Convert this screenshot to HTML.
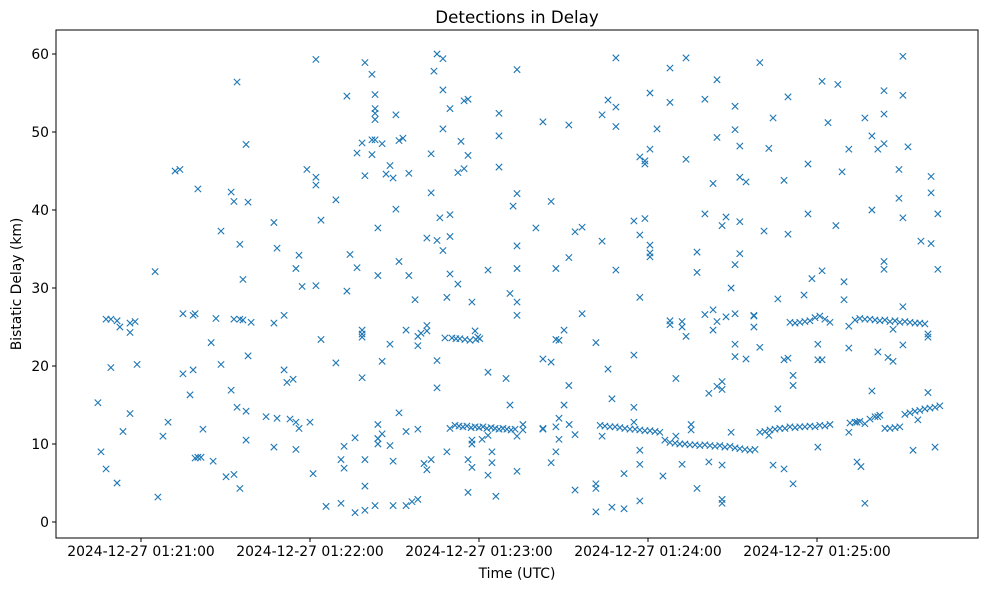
<!DOCTYPE html>
<html><head><meta charset="utf-8"><style>
body{margin:0;background:#fff;}
svg{display:block;font-family:"DejaVu Sans","Liberation Sans",sans-serif;}
</style></head><body>
<svg id="chart" width="989" height="590" viewBox="0 0 989 590" xmlns="http://www.w3.org/2000/svg"></svg>
<script>
// time in seconds after 01:20:00 UTC, delay in km
const xTickSeconds=[60,120,180,240,300];
const xTickLabels=["2024-12-27 01:21:00","2024-12-27 01:22:00","2024-12-27 01:23:00","2024-12-27 01:24:00","2024-12-27 01:25:00"];
const yTicks=[0,10,20,30,40,50,60];
const detections=[
[44.7,15.3],[45.8,9],[47.6,26],[47.6,6.8],[49.3,19.8],[49.3,26],[51.5,25.8],[51.5,5],[52.5,25],[53.6,11.6],
[56.1,25.5],[56.1,24.3],[56.1,13.9],[57.9,25.7],[58.6,20.2],[65.0,32.1],[66.0,3.2],[67.8,11],[69.6,12.8],[72.1,45],
[73.8,45.2],[74.9,26.7],[74.9,19],[77.4,16.3],[78.5,26.5],[78.5,19.5],[79.2,26.7],[79.2,8.2],[80.2,42.7],[80.2,8.3],
[81.3,8.3],[82.0,11.9],[84.9,23],[85.6,7.8],[86.6,26.1],[88.4,20.2],[88.4,37.3],[90.2,5.8],[92.0,16.9],[92.0,42.3],
[93.0,41.1],[93.0,26],[93.0,6.1],[94.1,56.4],[94.1,14.7],[95.1,35.6],[95.1,26],[95.1,4.3],[96.2,31.1],[96.2,25.9],
[97.3,48.4],[97.3,10.5],[97.3,14.2],[98.0,41],[98.0,21.3],[99.1,25.6],[104.4,13.5],[107.2,25.5],[107.2,38.4],[107.2,9.6],
[108.3,13.3],[108.3,35.1],[110.8,26.5],[110.8,19.5],[111.8,17.9],[112.9,13.2],[114.0,18.3],[115.0,12.8],[115.0,32.5],[115.0,9.3],
[116.1,34.2],[116.1,12],[117.2,30.2],[118.9,45.2],[120.0,12.8],[121.1,6.2],[122.1,59.3],[122.1,44.2],[122.1,30.3],[122.1,43.2],
[123.9,38.7],[123.9,23.4],[125.7,2],[129.2,41.3],[129.2,20.4],[131.0,8],[131.0,2.4],[132.1,9.7],[132.1,6.9],[133.1,54.6],
[133.1,29.6],[134.2,34.3],[136.0,10.8],[136.0,1.2],[136.7,32.6],[136.7,47.3],[138.5,48.6],[138.5,24.6],[138.5,23.7],[138.5,24.1],
[138.5,18.5],[139.5,58.9],[139.5,44.4],[139.5,4.6],[139.5,1.5],[139.5,8],[142.0,49],[142.0,47.1],[142.0,57.4],[143.1,2.1],
[143.1,54.8],[143.1,53],[143.1,49],[143.1,52.4],[143.1,51.6],[144.1,37.7],[144.1,31.6],[144.1,10.7],[144.1,12.5],[144.1,10],
[144.1,10.7],[145.6,20.6],[145.6,11.3],[145.6,48.5],[147.0,44.6],[148.4,45.7],[148.4,22.8],[148.4,9.8],[149.5,44.1],[149.5,7.8],
[149.5,2.1],[150.5,40.1],[150.5,52.2],[151.6,48.9],[151.6,33.4],[151.6,14],[153.0,49.2],[154.1,11.6],[154.1,2.1],[154.1,24.6],
[155.1,44.7],[155.1,31.6],[156.2,2.6],[157.3,28.5],[158.3,23.8],[158.3,11.9],[158.3,22.6],[158.3,2.9],[159.4,24.2],[160.5,7.5],
[161.5,25.2],[161.5,36.4],[161.5,6.7],[161.5,24.5],[163.0,42.2],[163.0,47.2],[163.0,8],[164.0,57.8],[165.1,60],[165.1,17.2],
[165.1,36.1],[165.1,20.7],[166.1,39],[167.2,59.4],[167.2,34.8],[167.2,55.4],[167.2,50.4],[168.6,28.8],[168.6,9],[169.7,31.8],
[169.7,36.6],[169.7,39.4],[169.7,53],[169.7,12],[172.5,44.8],[172.5,30.5],[173.6,48.8],[174.7,54],[174.7,45.3],[176.1,8],
[176.1,47],[176.1,3.8],[176.1,54.2],[177.5,28.2],[177.5,10.5],[177.5,7],[177.5,10],[178.6,24.5],[179.6,23.7],[181.1,10.6],
[183.2,6],[183.2,19.2],[183.2,32.3],[183.2,11.1],[184.6,9],[184.6,7.6],[186.0,3.3],[187.1,45.5],[187.1,49.5],[187.1,52.4],
[189.6,18.4],[191.0,15],[191.0,29.3],[192.1,40.5],[193.5,42.1],[193.5,28.2],[193.5,11],[193.5,26.5],[193.5,35.4],[193.5,32.5],
[193.5,6.5],[193.5,58],[195.6,11.8],[195.6,12.5],[200.2,37.7],[202.7,12],[202.7,11.9],[202.7,20.9],[202.7,51.3],[205.6,20.5],
[205.6,7.6],[205.6,41.1],[207.3,32.5],[207.3,9],[207.3,12.2],[207.3,23.4],[208.4,13.3],[208.4,23.3],[208.4,10.6],[210.2,15],
[210.2,24.6],[212.0,12.5],[211.9,50.9],[211.9,17.5],[211.9,33.9],[214.1,37.2],[214.1,4.1],[214.1,11.2],[216.6,37.8],[216.6,26.7],
[221.5,23],[221.5,4.9],[221.5,4.3],[221.5,1.3],[223.7,11],[223.7,36],[223.7,52.2],[225.8,19.6],[225.8,54.1],[227.2,1.9],
[227.2,15.8],[228.6,59.5],[228.6,53.2],[228.6,32.3],[228.6,50.7],[231.5,6.2],[231.5,1.7],[235.0,21.4],[235.0,14.7],[235.0,12.8],
[235.0,38.6],[237.1,7.4],[237.1,2.7],[237.1,9.2],[237.1,28.8],[237.1,36.8],[237.1,46.8],[238.9,46.3],[238.9,45.9],[238.9,38.9],
[240.7,47.8],[240.7,34.5],[240.7,35.5],[240.7,34],[240.7,55],[243.2,50.4],[245.3,5.9],[247.8,53.8],[247.8,58.2],[247.8,25.8],
[247.8,25.3],[249.9,11],[249.9,18.4],[252.1,7.4],[252.1,25],[252.1,25.7],[253.5,59.5],[253.5,46.5],[253.5,23.8],[255.3,12.5],
[255.3,11.8],[257.4,4.3],[257.4,34.6],[257.4,32],[260.2,54.2],[260.2,39.5],[260.2,26.6],[261.6,7.7],[261.6,16.5],[263.1,43.4],
[263.1,27.2],[263.1,24.6],[264.5,49.3],[264.5,56.7],[264.5,25.7],[264.5,17.4],[266.3,2.4],[266.3,38],[266.3,18],[266.3,17],
[266.3,7.3],[266.3,2.9],[267.7,26.3],[267.7,39.1],[269.5,30],[269.5,11.5],[270.9,50.3],[270.9,33],[270.9,53.3],[270.9,21.2],
[270.9,26.7],[270.9,22.8],[272.6,44.2],[272.6,34.4],[272.6,48.2],[272.6,38.5],[274.8,43.6],[274.8,20.9],[277.6,26.5],[277.6,25],
[277.6,26.4],[279.7,58.9],[279.7,22.4],[281.2,37.3],[282.9,47.9],[282.9,11.1],[284.4,51.8],[284.4,7.3],[286.1,28.6],[286.1,14.5],
[288.3,43.8],[288.3,20.8],[288.3,6.8],[289.7,54.5],[289.7,36.9],[289.7,21],[291.5,4.9],[291.5,18.8],[291.5,17.5],[295.4,29.1],
[296.8,39.5],[296.8,45.9],[298.2,31.2],[300.3,20.8],[300.3,9.6],[300.3,22.8],[301.8,56.5],[301.8,32.2],[301.8,20.8],[303.9,51.2],
[306.7,38],[307.4,56.1],[308.9,44.9],[309.6,28.5],[309.6,30.8],[311.3,25.1],[311.3,22.3],[311.3,47.8],[311.3,11.5],[314.2,12.8],
[314.2,7.7],[315.6,7.1],[317.0,51.8],[317.0,2.4],[319.5,16.8],[319.5,49.5],[319.5,40],[321.6,47.8],[321.6,13.5],[321.6,21.8],
[323.8,55.3],[323.8,52.3],[323.8,48.5],[323.8,33.4],[323.8,32.4],[325.2,21.1],[327.0,20.6],[327.0,24.7],[329.1,41.5],[329.1,45.2],
[330.5,59.7],[330.5,54.7],[330.5,22.7],[330.5,27.6],[330.5,39],[332.3,48.1],[334.1,9.2],[335.8,13.1],[336.9,36],[339.4,23.7],
[339.4,16.6],[339.4,24.1],[340.5,44.3],[340.5,42.2],[340.5,35.7],[341.9,9.6],[342.9,39.5],[342.9,32.4],
[167.9,23.6],[170.4,23.6],[171.8,23.5],[173.2,23.5],[175.0,23.4],[176.8,23.3],[178.9,23.4],[180.3,23.5],
[171.5,12.4],[172.9,12.3],[174.3,12.2],[175.7,12.3],[177.2,12.1],[178.6,12.2],[180.0,12.1],[181.4,12.2],[182.8,12],[184.3,12.1],
[185.7,12],[187.1,11.9],[188.5,12],[189.9,11.9],[191.4,11.8],[192.8,11.9],
[223.0,12.4],[224.7,12.3],[226.5,12.2],[228.3,12.2],[230.0,12.1],[231.8,12],[233.6,11.9],[235.4,11.9],[237.1,11.8],[238.9,11.7],
[240.7,11.7],[242.5,11.6],[244.2,11.5],
[246.0,10.5],[247.8,10.2],[249.6,10.1],[251.3,10],[253.1,10],[254.9,9.9],[256.7,9.9],[258.4,9.8],[260.2,9.9],[262.0,9.8],
[263.8,9.7],[265.5,9.8],[267.3,9.6],[269.1,9.7],[270.9,9.5],
[272.6,9.4],[274.4,9.3],[276.2,9.2],[278.0,9.3],[279.7,11.5],[281.5,11.6],[283.3,11.8],[285.1,11.9],[286.8,12],[288.6,12],
[290.4,12.2],[292.2,12.1],[293.9,12.2],[295.7,12.2],[297.5,12.3],[299.3,12.2],[301.0,12.4],[302.8,12.3],[304.6,12.5],
[290.4,25.6],[292.2,25.5],[293.9,25.6],[295.7,25.7],[297.5,25.8],[299.3,26.2],[301.0,26.4],[302.8,26],[304.6,25.6],
[313.5,25.9],[315.2,26.1],[317.0,26],[318.8,26],[320.6,25.9],[322.3,25.8],[324.1,25.9],[325.9,25.7],[327.7,25.8],[329.4,25.6],
[331.2,25.7],[333.0,25.6],[334.8,25.5],[336.5,25.5],[338.3,25.4],
[311.7,12.7],[313.5,12.8],[315.2,12.9],[317.0,12.6],[318.8,13.2],[320.6,13.5],[322.3,13.7],
[324.1,12],[325.9,12],[327.7,12.1],[329.4,12.2],[331.2,13.8],[333.0,14],[334.8,14.2],[336.5,14.3],[338.3,14.5],[340.1,14.6],[341.9,14.7],[343.6,14.9]
];

const NS="http://www.w3.org/2000/svg";
const svg=document.getElementById('chart');
const L=56,R=978,T=30,B=538;
const xScale=s=>141+(s-60)*169/60;
const yScale=v=>522-v*7.8;
function mk(tag,attrs,parent){const e=document.createElementNS(NS,tag);for(const k in attrs)e.setAttribute(k,attrs[k]);(parent||svg).appendChild(e);return e;}

const title=mk('text',{x:517,y:23,'text-anchor':'middle','font-size':16.7,fill:'#000'});


title.textContent='Detections in Delay';

const pts=mk('g',{stroke:'#1f77b4','stroke-width':1.1,fill:'none'});


detections.forEach(d=>{
  const x=xScale(d[0]),y=yScale(d[1]),r=3.2;
  const p=mk('path',{d:`M${x-r},${y-r}L${x+r},${y+r}M${x-r},${y+r}L${x+r},${y-r}`},pts);
  
  
});

const frame=mk('rect',{x:L,y:T,width:R-L,height:B-T,fill:'none',stroke:'#000','stroke-width':1});



xTickSeconds.forEach((s,i)=>{
  const x=xScale(s);
  const t=mk('line',{x1:x,x2:x,y1:B,y2:B+4,stroke:'#000'});
  
  
  const l=mk('text',{x:x,y:B+18,'text-anchor':'middle','font-size':13.9,fill:'#000'});
  
  
  l.textContent=xTickLabels[i];
});
yTicks.forEach(v=>{
  const y=yScale(v);
  const t=mk('line',{x1:L-4,x2:L,y1:y,y2:y,stroke:'#000'});
  
  
  const l=mk('text',{x:L-7,y:y+5,'text-anchor':'end','font-size':13.9,fill:'#000'});
  
  
  l.textContent=v;
});
const xl=mk('text',{x:517,y:578,'text-anchor':'middle','font-size':13.9,fill:'#000'});


xl.textContent='Time (UTC)';
const yl=mk('text',{x:21,y:284,'text-anchor':'middle','font-size':13.9,fill:'#000',transform:'rotate(-90 21 284)'});


yl.textContent='Bistatic Delay (km)';
</script>
</body></html>
